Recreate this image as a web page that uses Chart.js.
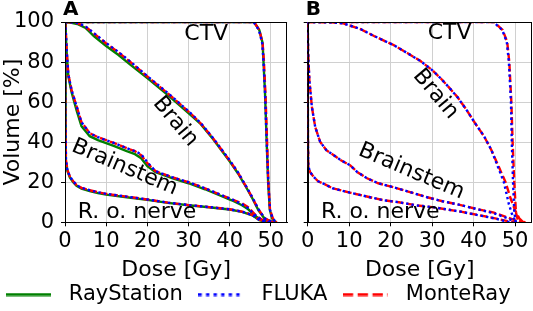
<!DOCTYPE html>
<html>
<head>
<meta charset="utf-8">
<title>DVH comparison</title>
<script src="https://cdn.jsdelivr.net/npm/chart.js@4/dist/chart.umd.min.js"></script>
<style>
  body { margin: 0; background: #fff; overflow: hidden; }
  .box { position: absolute; }
</style>
</head>
<body>
<div class="box" style="left:-12px;top:235px;width:533px;height:80px"><canvas id="legend"></canvas></div>
<div class="box" style="left:0;top:0;width:292px;height:285px"><canvas id="panelA"></canvas></div>
<div class="box" style="left:292px;top:0;width:241px;height:285px"><canvas id="panelB"></canvas></div>
<script>
// dose [Gy], volume [%] pairs
// --- panel A ---
const ctvA_rs = [[0,100],[45.9,100],[47.2,96],[48.0,89.5],[48.2,81],[48.6,64],[49.0,39.5],[49.35,19.6],[49.75,6.3],[50.3,2],[51.2,0]];
const ctvA_fl = [[0,100],[45.8,100],[47.1,96],[47.9,89.5],[48.2,81],[48.6,64],[49.0,39.5],[49.4,19.6],[49.8,6.3],[50.4,2],[51.3,0]];
const ctvA_mr = [[0,100],[45.9,100],[47.2,96],[48.0,89.5],[48.3,81],[48.7,64],[49.1,39.5],[49.4,19.6],[49.8,6.3],[50.5,2],[51.4,0]];

const brainA_rs = [[0,100],[1,99.8],[3,99],[5,97],[7,93],[10,88],[13,83.5],[16,78.5],[20,72],[25,63.5],[30,54.5],[33,49],[36,41.5],[40,30.5],[42,24.5],[44,17.5],[45.5,12],[47,6],[48.5,1.8],[50,0.4],[51,0]];
const brainA_fl = [[0,100],[1,100],[3,99.5],[5,97.8],[7,94.5],[10,89.5],[13,85],[16,80],[20,73],[25,64.5],[30,55.5],[33,49.5],[36,42],[40,31],[42,25],[44,18],[45.5,12.5],[47,6.5],[48.5,2],[50,0.5],[51,0]];
const brainA_mr = [[0,100],[1,100],[3,99.4],[5,97.6],[7,94.3],[10,89.3],[13,84.8],[16,79.8],[20,72.8],[25,64.3],[30,55.3],[33,49.3],[36,41.8],[40,30.8],[42,24.8],[44,17.8],[45.5,12.3],[47,6.4],[48.5,2],[50,0.5],[51,0]];

const stemA_rs = [[0,100],[0.2,94],[0.4,85],[0.8,73],[1.6,65],[2.8,56],[4,48],[6,43],[8,41],[10,39.5],[12,38],[15,35.5],[17,34],[18.5,32],[20,28],[22,25],[24,23.5],[26,22],[30,19.5],[34,16.5],[37.5,13.5],[40.5,11],[43,8.5],[44.5,6.5],[46.5,2.8],[48,0.8],[49.5,0.2],[51,0]];
const stemA_fl = [[0,100],[0.2,95],[0.4,86],[0.8,74],[1.6,66],[2.8,58],[4,50],[6,44.5],[8,42.5],[10,41],[12,39.5],[15,37],[17,35.5],[18.5,34],[20,30],[22,25.5],[24,24],[26,22.5],[30,20],[34,17],[37.5,14],[40.5,11.5],[43,9],[44.5,7],[46.5,3],[48,1],[49.5,0.3],[51,0]];
const stemA_mr = [[0,100],[0.2,95],[0.4,86],[0.8,74],[1.6,66],[2.8,58],[4,50],[6,44.5],[8,42.5],[10,41],[12,39.5],[15,37],[17,35.5],[18.5,33.5],[20,29.5],[22,25.5],[24,24],[26,22.5],[30,20],[34,17],[37.5,14],[40.5,11.5],[43,9.5],[44.5,7.5],[46.5,3.2],[48,1.1],[49.5,0.3],[51,0]];

const nerveA_rs = [[0,100],[0.1,50],[0.24,30],[0.6,25.5],[1.2,22.3],[2,20],[2.8,18.2],[4,16.8],[6,15.6],[8,14.6],[10,13.8],[15,12.5],[20,11.2],[25,9.7],[30,8.5],[35,7.5],[40,6.4],[43,5.2],[45.5,3.5],[47.2,1.1],[48.8,0.3],[50,0]];
const nerveA_fl = [[0,100],[0.1,50],[0.24,31],[0.6,26],[1.2,22.8],[2,20.5],[2.8,18.6],[4,17.2],[6,16],[8,15],[10,14.2],[15,12.8],[20,11.4],[25,9.8],[30,8.6],[35,7.6],[40,6.5],[43,5.3],[45.5,3.6],[47.2,1.2],[48.8,0.3],[50,0]];
const nerveA_mr = [[0,100],[0.1,50],[0.24,31],[0.6,26],[1.2,22.8],[2,20.5],[2.8,18.6],[4,17.2],[6,16],[8,15],[10,14.2],[15,12.8],[20,11.4],[25,9.8],[30,8.6],[35,7.6],[40,6.5],[43,5.3],[45.5,3.7],[47.2,1.3],[48.8,0.4],[50.2,0]];

// --- panel B ---
const ctvB_fl = [[0,100],[44.8,100],[46.9,96],[48.0,90],[48.5,80],[49.0,60],[49.2,40],[49.5,20],[49.8,5],[50.2,0]];
const ctvB_mr = [[0,100],[44.9,100],[47.0,96],[48.1,90],[48.6,80],[49.1,60],[49.4,40],[49.8,20],[50.2,5],[50.8,0]];

const brainB_fl = [[0,100],[3,100],[6,99.8],[8.6,99.3],[12.7,96.5],[16,93],[20.7,88.5],[24,84.5],[27.2,80.5],[30,76],[32,72],[34,67.5],[36.1,62.5],[38,57],[40.5,49],[42.5,43],[44.3,36],[45.8,28],[47.3,20],[48.5,9],[49.5,2.5],[50.3,0]];
const brainB_mr = [[0,100],[3,100],[6,99.8],[8.6,99.3],[12.7,96.5],[16,93],[20.7,88.5],[24,84.5],[27.2,80.5],[30,76],[32,72],[34,67.5],[36.1,62.5],[38,57],[40.5,49],[42.5,43],[44.3,36],[46,28],[47.7,20],[48.9,12],[50,6],[51,2],[52,0]];

const stemB_fl = [[0,100],[0.1,85],[0.4,71],[1.0,57.7],[1.8,47.7],[3,40.2],[4.5,36],[6.2,33.6],[8,31],[10.2,28.5],[12,25],[14.3,22],[17,19.5],[20.7,17.5],[25.6,14.5],[28.8,12.5],[32.5,10.5],[36.9,8.6],[40,7],[44.9,4.5],[48.2,2],[49.7,0.5],[50.4,0]];
const stemB_mr = [[0,100],[0.1,85],[0.4,71],[1.0,57.7],[1.8,47.7],[3,40.2],[4.5,36],[6.2,33.6],[8,31],[10.2,28.5],[12,25],[14.3,22],[17,19.5],[20.7,17.5],[25.6,14.5],[28.8,12.5],[32.5,10.5],[36.9,8.6],[40,7],[44.9,4.8],[48.2,2.4],[50,1],[51.5,0.3],[52.5,0]];

const nerveB_fl = [[0,100],[0.05,45],[0.15,28],[0.6,25],[1.4,22.8],[2.5,20.5],[3.8,19.3],[6,17],[10.2,14.8],[14,13],[18.3,11],[22,10],[26.4,8.4],[30,7.6],[36.9,5.3],[41,3.6],[44.9,2],[48.2,0.3],[49.5,0]];
const nerveB_mr = [[0,100],[0.05,45],[0.15,28],[0.6,25],[1.4,22.8],[2.5,20.5],[3.8,19.3],[6,17],[10.2,14.8],[14,13],[18.3,11],[22,10],[26.4,8.4],[30,7.6],[36.9,5.3],[41,3.7],[44.9,2.1],[48.2,0.6],[50,0]];

const engines = ['RayStation', 'FLUKA', 'MonteRay'];
const doseTicks = [0, 10, 20, 30, 40, 50];

const FONT = '"DejaVu Sans", sans-serif';
Chart.defaults.font.family = FONT;
Chart.defaults.color = '#000';
Chart.defaults.animation = false;

const styles = {
  RayStation: { borderColor: '#008000', borderDash: [], order: 3 },
  FLUKA: { borderColor: '#0000ff', borderDash: [2.4, 3], order: 1 },
  MonteRay: { borderColor: '#ff0000', borderDash: [7.4, 3.2], order: 2 }
};

function curve(engine, pts) {
  return Object.assign({
    label: engine, data: pts, showLine: true, pointRadius: 0,
    borderWidth: 2.4, fill: false, tension: 0
  }, styles[engine]);
}

// frame on all four sides, like matplotlib spines
const frame = {
  id: 'frame',
  afterDatasetsDraw(chart) {
    const a = chart.chartArea, ctx = chart.ctx;
    ctx.save();
    ctx.strokeStyle = '#000';
    ctx.lineWidth = 1;
    ctx.strokeRect(Math.round(a.left) + 0.5, Math.round(a.top) + 0.5,
      Math.round(a.right - a.left) - 1, Math.round(a.bottom - a.top));
    ctx.restore();
  }
};

// structure names and panel letter
const notes = {
  id: 'notes',
  afterDatasetsDraw(chart, args, opts) {
    const {ctx, chartArea} = chart;
    const sx = chart.scales.x, sy = chart.scales.y;
    ctx.save();
    ctx.fillStyle = '#000';
    ctx.font = '22px ' + FONT;
    ctx.textAlign = 'center';
    ctx.textBaseline = 'middle';
    for (const n of opts.items) {
      ctx.save();
      ctx.translate(sx.getPixelForValue(n.at[0]), sy.getPixelForValue(n.at[1]));
      ctx.rotate(n.rot * Math.PI / 180);
      ctx.fillText(n.text, 0, 0);
      ctx.restore();
    }
    ctx.font = 'bold 20px ' + FONT;
    ctx.textAlign = 'left';
    ctx.fillText(opts.letter, chartArea.left - 2, chartArea.top - 12);
    ctx.restore();
  }
};

function panel(id, datasets, letter, items, showY, yWidth, padRight) {
  return new Chart(document.getElementById(id), {
    type: 'scatter',
    data: { datasets: datasets },
    plugins: [frame, notes],
    options: {
      responsive: true,
      maintainAspectRatio: false,
      layout: { padding: { top: 22, right: padRight, left: 0, bottom: 0 } },
      plugins: {
        legend: { display: false },
        tooltip: { enabled: false },
        notes: { letter: letter, items: items }
      },
      scales: {
        x: {
          type: 'linear', min: 0, max: 54,
          afterBuildTicks: s => { s.ticks = doseTicks.map(v => ({ value: v })); },
          afterFit: s => { s.height = 62.7; },
          ticks: { font: { size: 21 }, padding: 3, maxRotation: 0 },
          grid: { color: '#d0d0d0', tickColor: '#000', tickLength: 4 },
          border: { color: '#000' },
          title: { display: true, text: 'Dose [Gy]', font: { size: 22 }, padding: { top: 0, bottom: 2 } }
        },
        y: {
          type: 'linear', min: 0, max: 100,
          afterFit: s => { s.width = yWidth; },
          ticks: { stepSize: 20, font: { size: 21 }, padding: 7, display: showY },
          grid: { color: '#d0d0d0', tickColor: '#000', tickLength: 4 },
          border: { color: '#000' },
          title: { display: showY, text: 'Volume [%]', font: { size: 22 }, padding: 0 }
        }
      }
    }
  });
}

panel('panelA', [
  curve('RayStation', ctvA_rs), curve('FLUKA', ctvA_fl), curve('MonteRay', ctvA_mr),
  curve('RayStation', brainA_rs), curve('FLUKA', brainA_fl), curve('MonteRay', brainA_mr),
  curve('RayStation', stemA_rs), curve('FLUKA', stemA_fl), curve('MonteRay', stemA_mr),
  curve('RayStation', nerveA_rs), curve('FLUKA', nerveA_fl), curve('MonteRay', nerveA_mr)
], 'A', [
  { text: 'CTV', at: [34.3, 94], rot: 0 },
  { text: 'Brain', at: [26.8, 50.2], rot: 50 },
  { text: 'Brainstem', at: [14.5, 27.3], rot: 23 },
  { text: 'R. o. nerve', at: [17.5, 4.9], rot: 0 }
], true, 65, 4.7);

panel('panelB', [
  curve('FLUKA', ctvB_fl), curve('MonteRay', ctvB_mr),
  curve('FLUKA', brainB_fl), curve('MonteRay', brainB_mr),
  curve('FLUKA', stemB_fl), curve('MonteRay', stemB_mr),
  curve('FLUKA', nerveB_fl), curve('MonteRay', nerveB_mr)
], 'B', [
  { text: 'CTV', at: [34.2, 94.4], rot: 0 },
  { text: 'Brain', at: [30.8, 64], rot: 50 },
  { text: 'Brainstem', at: [25, 25.3], rot: 23 },
  { text: 'R. o. nerve', at: [17.5, 5], rot: 0 }
], false, 15.7, 1.3);

// legend line samples
function swatch(engine) {
  const c = document.createElement('canvas');
  c.width = 45; c.height = 4;
  const g = c.getContext('2d');
  g.strokeStyle = styles[engine].borderColor;
  g.lineWidth = 3;
  g.setLineDash(styles[engine].borderDash.map(d => d * 1.4));
  g.beginPath(); g.moveTo(0, 2); g.lineTo(45, 2); g.stroke();
  return c;
}

new Chart(document.getElementById('legend'), {
  type: 'scatter',
  data: { datasets: engines.map(e => curve(e, [])) },
  options: {
    responsive: true,
    maintainAspectRatio: false,
    layout: { padding: 0 },
    scales: { x: { display: false }, y: { display: false } },
    plugins: {
      tooltip: { enabled: false },
      legend: {
        position: 'bottom',
        labels: {
          usePointStyle: true,
          pointStyleWidth: 60,
          padding: 8,
          font: { size: 21 },
          generateLabels: chart => chart.data.datasets.map((ds, i) => ({
            text: ds.label, pointStyle: swatch(ds.label), fillStyle: ds.borderColor,
            strokeStyle: ds.borderColor, lineWidth: 0, hidden: false, datasetIndex: i
          }))
        }
      }
    }
  }
});
</script>
</body>
</html>
